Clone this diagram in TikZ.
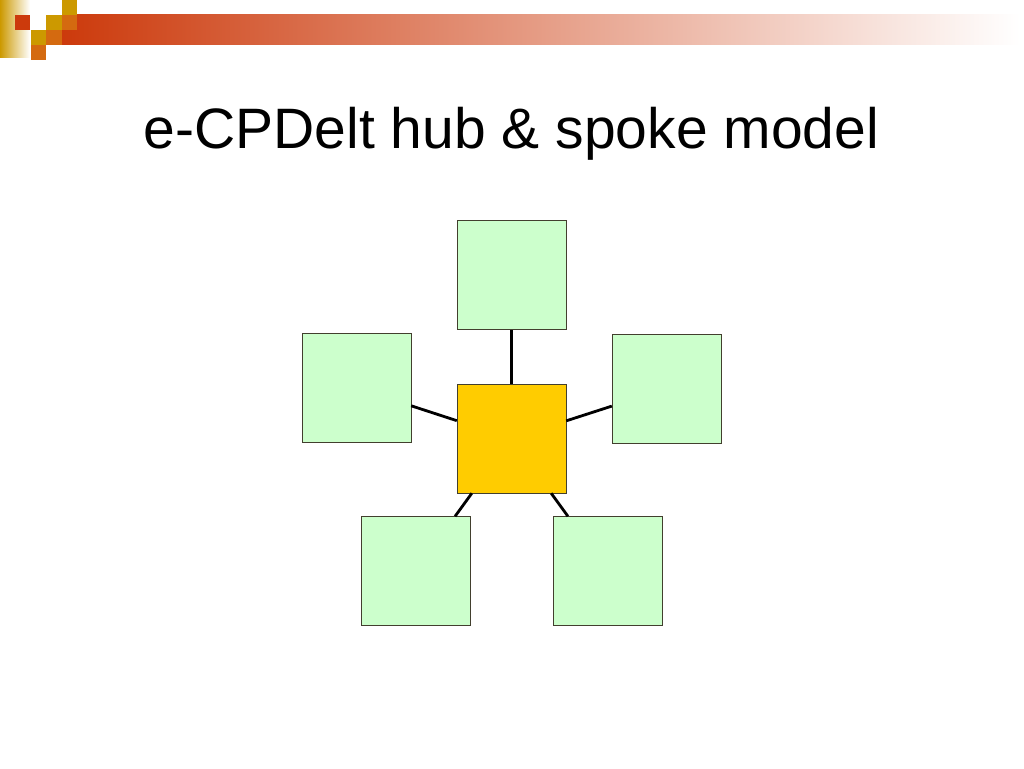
\documentclass[tikz,border=0pt]{standalone}
\usepackage{fontspec}
\setmainfont{Liberation Sans}
\usetikzlibrary{positioning}

\definecolor{spoke}{HTML}{CCFFCC}
\definecolor{hubfill}{HTML}{FFCC00}
\definecolor{barred}{HTML}{CC3A0C}
\definecolor{decogold}{HTML}{CC9900}
\definecolor{decoorange}{HTML}{D46A10}

\begin{document}
\begin{tikzpicture}[x=1pt, y=-1pt, node distance=54pt,
        SB/.style = {draw=black!70!olive, thin, minimum size=109pt, inner sep=0pt},
        LK/.style = {line width=2.8pt}]
\useasboundingbox (0,0) rectangle (1024,768);
% banner
\shade[left color=barred, right color=white] (62,15) rectangle (1020,45);
\shade[left color=decogold, right color=white] (0,0) rectangle (30,58);
\fill[barred] (15,15) rectangle (30,30);
\fill[decogold] (62,0) rectangle (77,15);
\fill[decogold] (46,15) rectangle (62,30);
\fill[decoorange] (62,15) rectangle (77,30);
\fill[decogold] (31,30) rectangle (46,45);
\fill[decoorange] (46,30) rectangle (62,45);
\fill[decoorange] (31,45) rectangle (46,60);
% title
\node (title) at (511.5,134) {\fontsize{57}{68}\selectfont e-CPDelt hub \& spoke model};

\node (hub)   [SB, fill=hubfill] at (511.5,438.5) {};
\node (top)   [SB, fill=spoke, above=of hub] {};
\node (left)  [SB, fill=spoke] at (356.5,388) {};
\node (right) [SB, fill=spoke] at (666.5,388.5) {};
\node (botl)  [SB, fill=spoke] at (415.5,571) {};
\node (botr)  [SB, fill=spoke] at (607.5,571) {};

\foreach \s in {top, left, right, botl, botr}
  \draw[LK] (hub) -- (\s);
\end{tikzpicture}
\end{document}
